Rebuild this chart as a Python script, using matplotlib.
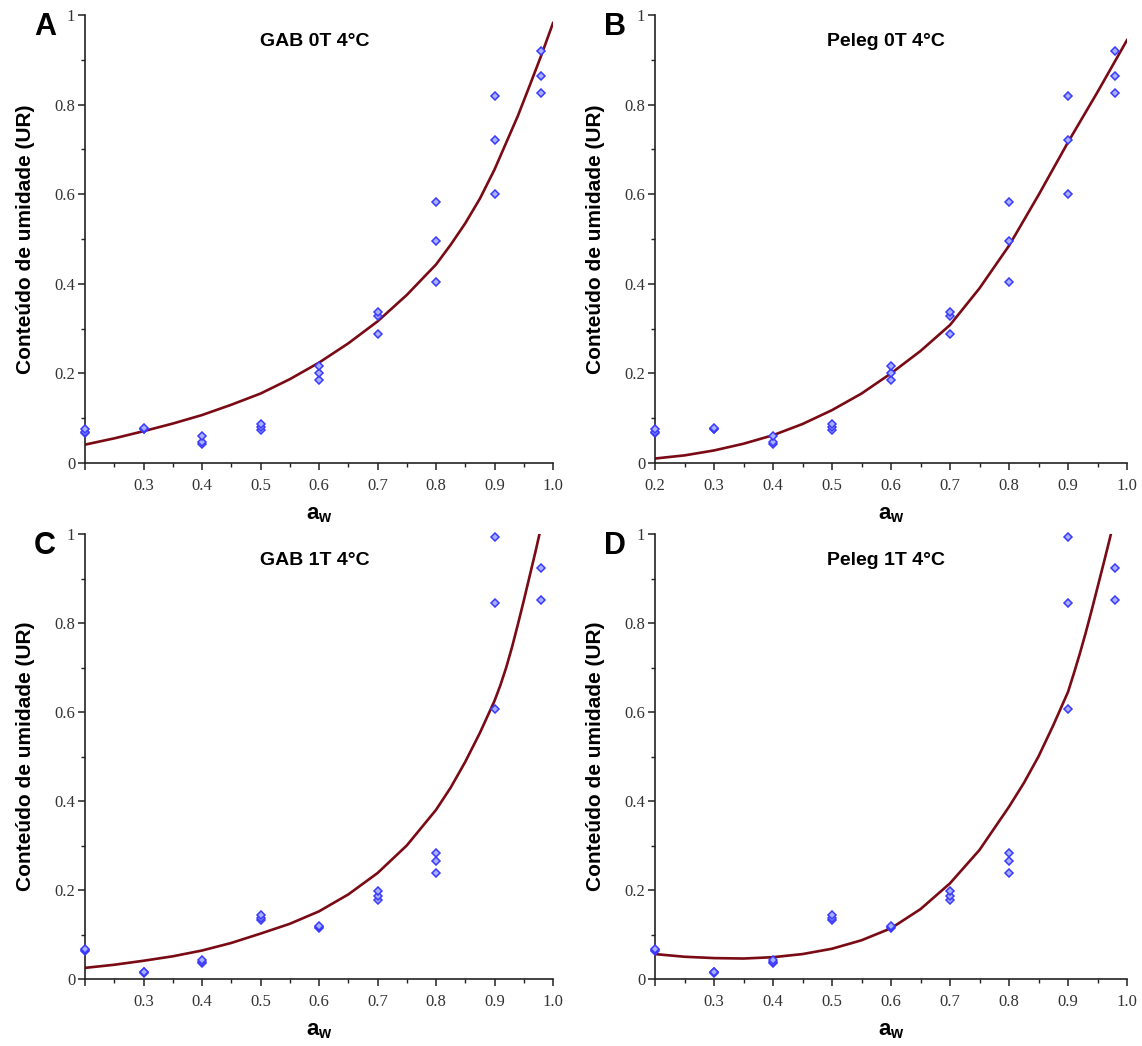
import numpy as np
import matplotlib
matplotlib.use("Agg")
import matplotlib.pyplot as plt
from matplotlib.ticker import MultipleLocator, FixedLocator

plt.rcParams['mathtext.fontset'] = 'custom'
plt.rcParams['mathtext.bf'] = 'Liberation Sans:bold'
plt.rcParams['mathtext.rm'] = 'Liberation Sans:bold'

# pontos experimentais (aw, umidade)
aw_levels = [0.2, 0.3, 0.4, 0.5, 0.6, 0.7, 0.8, 0.9, 0.98]
ur_0T = [[0.066, 0.070, 0.076], [0.075, 0.077, 0.078], [0.043, 0.046, 0.060],
         [0.073, 0.081, 0.088], [0.185, 0.201, 0.217], [0.287, 0.329, 0.338],
         [0.403, 0.496, 0.583], [0.600, 0.721, 0.819], [0.826, 0.864, 0.920]]
ur_1T = [[0.064, 0.066, 0.068], [0.014, 0.015, 0.016], [0.036, 0.039, 0.042],
         [0.133, 0.138, 0.143], [0.115, 0.117, 0.119], [0.178, 0.187, 0.197],
         [0.238, 0.265, 0.284], [0.606, 0.845, 0.993], [0.851, 0.923]]

# curvas ajustadas
aw_gab0 = [0.2, 0.25, 0.3, 0.35, 0.4, 0.45, 0.5, 0.55, 0.6, 0.65, 0.7, 0.75,
           0.8, 0.825, 0.85, 0.875, 0.9, 0.92, 0.94, 0.96, 0.98, 1.0]
fit_gab0 = [0.041, 0.055, 0.071, 0.088, 0.107, 0.130, 0.155, 0.187, 0.224, 0.267,
            0.316, 0.375, 0.443, 0.487, 0.535, 0.590, 0.655, 0.715, 0.775, 0.842,
            0.910, 0.982]

aw_peleg0 = [0.2, 0.25, 0.3, 0.35, 0.4, 0.45, 0.5, 0.55, 0.6, 0.65, 0.7, 0.75,
             0.8, 0.85, 0.9, 0.925, 0.95, 0.975, 1.0]
fit_peleg0 = [0.010, 0.017, 0.028, 0.043, 0.062, 0.087, 0.118, 0.155, 0.200, 0.250,
              0.308, 0.390, 0.485, 0.598, 0.716, 0.772, 0.828, 0.886, 0.944]

aw_gab1 = [0.2, 0.25, 0.3, 0.35, 0.4, 0.45, 0.5, 0.55, 0.6, 0.65, 0.7, 0.75,
           0.8, 0.825, 0.85, 0.875, 0.9, 0.91, 0.92, 0.93, 0.94, 0.95, 0.96,
           0.97, 0.98]
fit_gab1 = [0.025, 0.032, 0.041, 0.051, 0.064, 0.081, 0.102, 0.124, 0.152, 0.190,
            0.238, 0.300, 0.380, 0.430, 0.488, 0.553, 0.625, 0.660, 0.700, 0.746,
            0.797, 0.850, 0.905, 0.960, 1.018]

aw_peleg1 = [0.2, 0.25, 0.3, 0.35, 0.4, 0.45, 0.5, 0.55, 0.6, 0.65, 0.7, 0.75,
             0.8, 0.825, 0.85, 0.875, 0.9, 0.91, 0.92, 0.93, 0.94, 0.95, 0.96,
             0.97, 0.98]
fit_peleg1 = [0.056, 0.050, 0.047, 0.046, 0.049, 0.056, 0.068, 0.087, 0.114, 0.157,
              0.215, 0.290, 0.387, 0.440, 0.500, 0.570, 0.645, 0.687, 0.731, 0.778,
              0.828, 0.880, 0.932, 0.985, 1.040]

panels = [
    ('A', 'GAB 0T 4°C', ur_0T, aw_gab0, fit_gab0, False),
    ('B', 'Peleg 0T 4°C', ur_0T, aw_peleg0, fit_peleg0, True),
    ('C', 'GAB 1T 4°C', ur_1T, aw_gab1, fit_gab1, False),
    ('D', 'Peleg 1T 4°C', ur_1T, aw_peleg1, fit_peleg1, False),
]

W, H = 1142, 1046
fig = plt.figure(figsize=(W / 100, H / 100), dpi=100)
boxes = [(85, 15, 553, 463), (655, 15, 1127, 463),
         (85, 534, 553, 979), (655, 534, 1127, 979)]

tick_font = dict(family='Liberation Serif', size=12, color='#333333')

for (letter, title, ur, aw_fit, fit, label02), (x0, y0, x1, y1) in zip(panels, boxes):
    ax = fig.add_axes([x0 / W, 1 - y1 / H, (x1 - x0) / W, (y1 - y0) / H])

    xs, ys = [], []
    for a, vals in zip(aw_levels, ur):
        for v in vals:
            xs.append(a)
            ys.append(v)
    ax.plot(aw_fit, fit, color='#7a0a14', lw=1.9, zorder=2)
    ax.plot(xs, ys, 'D', ms=4.4, mfc='#aab0ff', mec='#3a3aff', mew=1.1,
            clip_on=False, zorder=3)

    ax.set_xlim(0.2, 1.0)
    ax.set_ylim(0, 1)
    for s in ['top', 'right']:
        ax.spines[s].set_visible(False)
    for s in ['left', 'bottom']:
        ax.spines[s].set_color('#222222')
        ax.spines[s].set_linewidth(1.2)

    xt = [0.2, 0.3, 0.4, 0.5, 0.6, 0.7, 0.8, 0.9, 1.0]
    ax.xaxis.set_major_locator(FixedLocator(xt))
    xl = ['%.1f' % t for t in xt]
    if not label02:
        xl[0] = ''
    ax.set_xticklabels(xl, fontdict=tick_font)
    ax.xaxis.set_minor_locator(MultipleLocator(0.05))
    yt = [0, 0.2, 0.4, 0.6, 0.8, 1.0]
    ax.yaxis.set_major_locator(FixedLocator(yt))
    ax.set_yticklabels(['0', '0.2', '0.4', '0.6', '0.8', '1'], fontdict=tick_font)
    ax.yaxis.set_minor_locator(MultipleLocator(0.1))
    ax.tick_params(which='major', length=5, width=1.1, color='#222222', pad=6)
    ax.tick_params(which='minor', length=3, width=1.0, color='#222222')
    ax.tick_params(axis='y', pad=2)

    ax.set_xlabel(r'$\mathbf{a_w}$', fontsize=16, labelpad=8)
    ax.set_ylabel('Conteúdo de umidade (UR)', fontsize=15, fontweight='bold',
                  family='Liberation Sans', labelpad=14)
    ax.text(0.49, 0.94, title, transform=ax.transAxes, ha='center', va='center',
            fontsize=14, fontweight='bold', family='Liberation Sans')
    fig.text((x0 - 40) / W, 1 - (y0 + 12) / H, letter, ha='center', va='center',
             fontsize=22, fontweight='bold', family='Liberation Sans')

plt.savefig('out.png', dpi=100)
